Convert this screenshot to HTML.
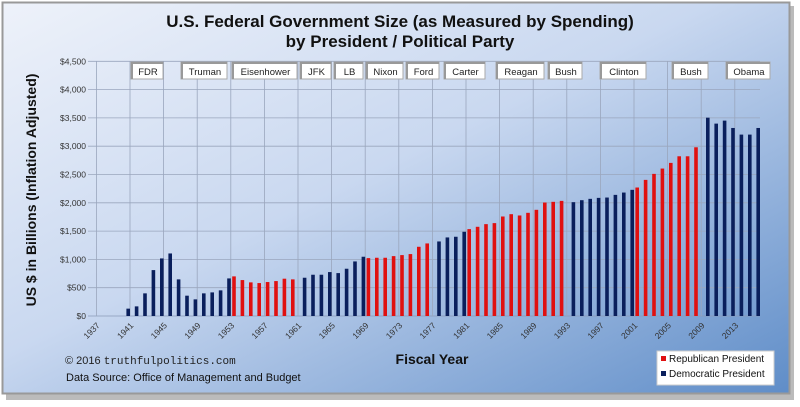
<!DOCTYPE html>
<html><head><meta charset="utf-8"><style>
html,body{margin:0;padding:0;background:#fff;}
svg{display:block;font-family:"Liberation Sans",sans-serif;}
</style></head><body>
<svg width="800" height="407" viewBox="0 0 800 407">
<defs>
<linearGradient id="bg" x1="0" y1="0" x2="1" y2="1">
<stop offset="0" stop-color="#eef2fa"/><stop offset="0.45" stop-color="#c9d8f0"/><stop offset="1" stop-color="#5f8dc8"/>
</linearGradient>
</defs>
<rect x="6" y="6" width="788" height="394" fill="#777" opacity="0.5"/>
<rect x="2.5" y="2.5" width="787" height="391" fill="url(#bg)" stroke="#999" stroke-width="2"/>
<text x="400" y="27" text-anchor="middle" font-size="17" font-weight="bold" fill="#111">U.S. Federal Government Size (as Measured by Spending)</text>
<text x="400" y="47" text-anchor="middle" font-size="17" font-weight="bold" fill="#111">by President / Political Party</text>
<g id="grid"></g>
<g id="pres"></g>
<g id="bars"></g>
<g id="axes"></g>
<text transform="translate(36,190) rotate(-90)" text-anchor="middle" font-size="14" font-weight="bold" fill="#111">US $ in Billions (Inflation Adjusted)</text>
<text x="432" y="364" text-anchor="middle" font-size="14" font-weight="bold" fill="#111">Fiscal Year</text>
<text x="65" y="364" font-size="11" fill="#222">© 2016 <tspan font-family="Liberation Mono,monospace">truthfulpolitics.com</tspan></text>
<text x="66" y="381" font-size="11" fill="#111">Data Source:  Office of Management and Budget</text>
<g>
<rect x="657" y="351" width="117" height="34" fill="#fff" stroke="#ccc"/>
<rect x="661" y="356" width="5" height="5" fill="#e01010"/>
<text x="669" y="362" font-size="10" fill="#111">Republican President</text>
<rect x="661" y="371" width="5" height="5" fill="#0a1f5c"/>
<text x="669" y="377" font-size="10" fill="#111">Democratic President</text>
</g>
</svg>
<script>
const years = [1940,1941,1942,1943,1944,1945,1946,1947,1948,1949,1950,1951,1952,1953,1954,1955,1956,1957,1958,1959,1960,1961,1962,1963,1964,1965,1966,1967,1968,1969,1970,1971,1972,1973,1974,1975,1976,1977,1978,1979,1980,1981,1982,1983,1984,1985,1986,1987,1988,1989,1990,1991,1992,1993,1994,1995,1996,1997,1998,1999,2000,2001,2002,2003,2004,2005,2006,2007,2008,2009,2010,2011,2012,2013,2014,2015];
const spending = [130,170,400,811,1017,1105,647,359,294,400,417,453,664,700,635,594,582,600,617,659,647,676,729,729,776,758,835,964,1047,1023,1029,1029,1058,1076,1094,1223,1282,1317,1388,1400,1488,1535,1576,1623,1641,1758,1799,1776,1823,1876,2005,2017,2034,2011,2046,2070,2087,2093,2140,2181,2229,2270,2405,2511,2605,2705,2822,2822,2981,3504,3399,3452,3322,3205,3205,3322];
const party = ["D","D","D","D","D","D","D","D","D","D","D","D","D","R","R","R","R","R","R","R","R","D","D","D","D","D","D","D","D","R","R","R","R","R","R","R","R","D","D","D","D","R","R","R","R","R","R","R","R","R","R","R","R","D","D","D","D","D","D","D","D","R","R","R","R","R","R","R","R","D","D","D","D","D","D","D"];
const yTicks = [0,500,1000,1500,2000,2500,3000,3500,4000,4500];
const xTickYears = [1937,1941,1945,1949,1953,1957,1961,1965,1969,1973,1977,1981,1985,1989,1993,1997,2001,2005,2009,2013];
const presidents = ["FDR","Truman","Eisenhower","JFK","LB","Nixon","Ford","Carter","Reagan","Bush","Clinton","Bush","Obama"];

const NS="http://www.w3.org/2000/svg";
const x0=96.4, step=8.4, yb=316, yScale=28.3/500;
const X=y=>x0+(y-1937)*step;
const Y=v=>yb-v*yScale;
function mk(t,a,p){const e=document.createElementNS(NS,t);for(const k in a)e.setAttribute(k,a[k]);p.appendChild(e);return e;}
const grid=document.getElementById('grid'),axes=document.getElementById('axes'),bars=document.getElementById('bars'),pres=document.getElementById('pres');
yTicks.forEach(v=>{
  const l=mk('line',{x1:88,x2:760,y1:Y(v),y2:Y(v),stroke:v===0?'#8a9ab8':'#9aa6bd','stroke-width':0.8},grid);
  
  
  const t=mk('text',{x:86,y:Y(v)+3,'text-anchor':'end','font-size':8.5,fill:'#333'},axes);
  t.textContent='$'+v.toLocaleString('en-US');
  
  
});
xTickYears.forEach(yr=>{
  const l=mk('line',{x1:X(yr),x2:X(yr),y1:Y(4500),y2:yb,stroke:'#9aa6bd','stroke-width':0.8},grid);
  
  
  const t=mk('text',{transform:`translate(${X(yr)+4},${yb+10}) rotate(-45)`,'text-anchor':'end','font-size':8.5,fill:'#333'},axes);
  t.textContent=yr;
  
  
});
const presPx=[[131,163],[181,227],[232,297],[300,331],[334,363],[366,403],[406,439],[444,485],[496,544],[548,582],[600,646],[672,708],[726,770]];
presidents.forEach((n,i)=>{
  const [a,b]=presPx[i];
  const r=mk('rect',{x:a,y:62,width:b-a,height:17,fill:'#fff',stroke:'#aaa','stroke-width':1},pres);
  
  
  mk('path',{d:`M${a+1} 79V63H${b}`,stroke:'#999','stroke-width':2,fill:'none'},pres);
  const t=mk('text',{x:(a+b)/2+1,y:75,'text-anchor':'middle','font-size':9.5,fill:'#222'},pres);
  t.textContent=n;
  
  
});
years.forEach((yr,i)=>{
  const rep=party[i]==='R';
  const cx=X(yr)+6.6+(rep?-3.4:0);
  const r=mk('rect',{x:cx-1.8,y:Y(spending[i]),width:3.6,height:yb-Y(spending[i]),fill:rep?'#e01010':'#0a1f5c'},bars);
  
  
});
</script>
</body></html>
